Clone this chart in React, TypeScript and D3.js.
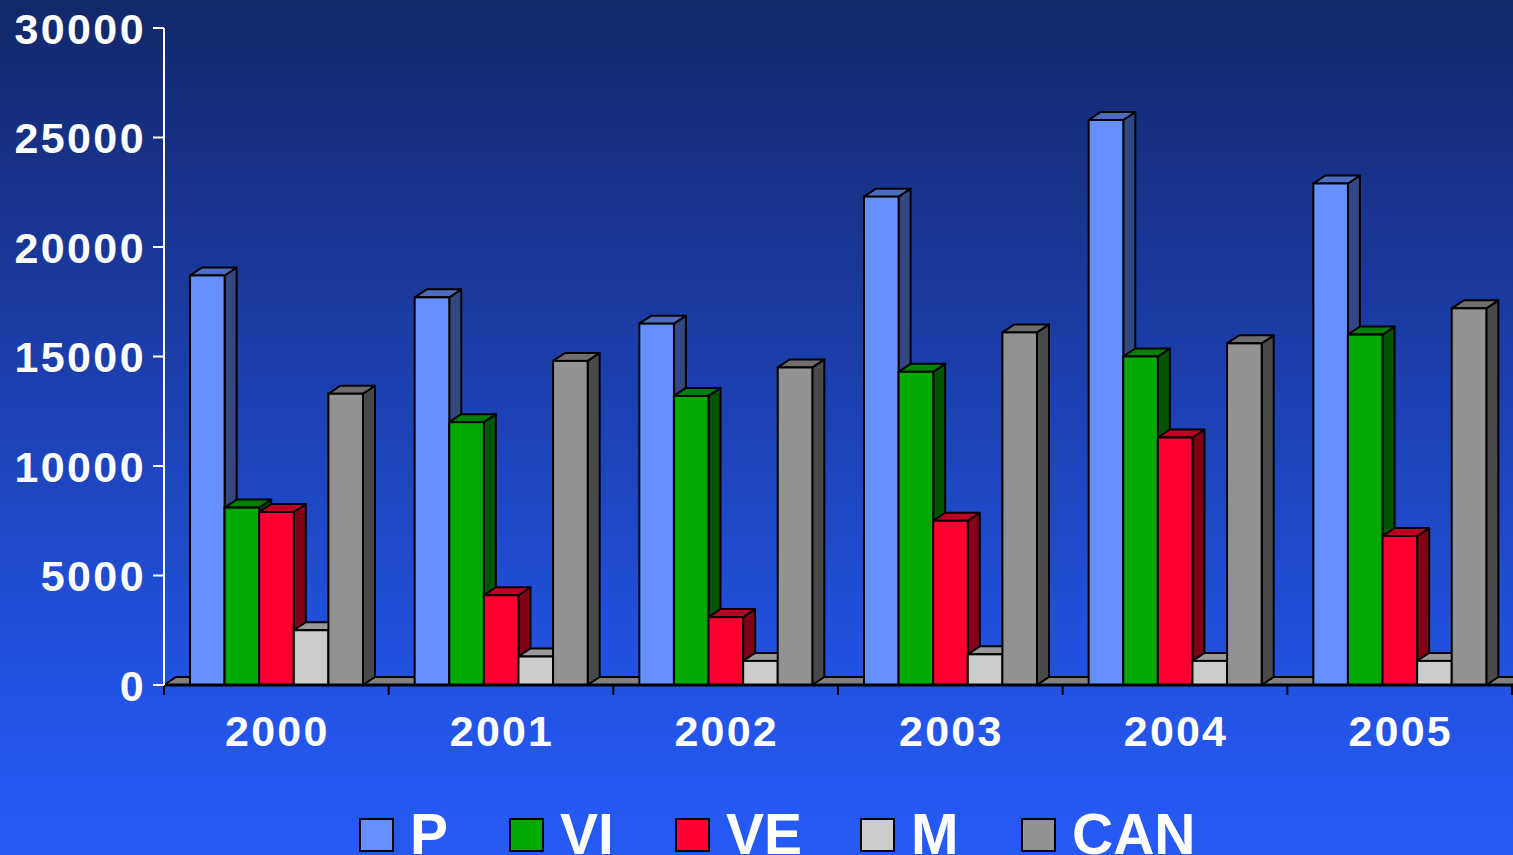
import React from "react";
import * as d3 from "d3";

const years = ["2000", "2001", "2002", "2003", "2004", "2005"];
const seriesNames = ["P", "VI", "VE", "M", "CAN"];
const P = [18700, 17700, 16500, 22300, 25800, 22900];
const VI = [8100, 12000, 13200, 14300, 15000, 16000];
const VE = [7900, 4100, 3100, 7500, 11300, 6800];
const M = [2500, 1300, 1100, 1400, 1100, 1100];
const CAN = [13300, 14800, 14500, 16100, 15600, 17200];
const yTicks = [0, 5000, 10000, 15000, 20000, 25000, 30000];

const seriesValues = [P, VI, VE, M, CAN];
const frontColors = ["#6690ff", "#00aa00", "#ff0030", "#cccccc", "#929292"];
const sideColors = ["#334880", "#005500", "#800018", "#666666", "#494949"];
const topColors = ["#4d6cbf", "#008000", "#bf0024", "#999999", "#6e6e6e"];

const W = 1513;
const H = 855;
const DX = 12;
const DY = 8;

export default function App() {
  const y = d3.scaleLinear().domain([0, 30000]).range([685, 28]);
  const x0 = d3.scaleBand<string>().domain(years).range([164, 1512]).padding(0);
  const x1 = d3
    .scaleBand<string>()
    .domain(seriesNames)
    .range([26, 199])
    .padding(0);
  const y0 = y(0);
  const fontFam = "'Liberation Sans', Arial, sans-serif";

  const bars: React.ReactNode[] = [];
  years.forEach((yr, gi) => {
    seriesNames.forEach((s, si) => {
      const v = seriesValues[si][gi];
      const xl = (x0(yr) as number) + (x1(s) as number);
      const w = x1.bandwidth();
      const yt = y(v);
      const side = [
        [xl + w, yt],
        [xl + w + DX, yt - DY],
        [xl + w + DX, y0 - DY],
        [xl + w, y0],
      ];
      const top = [
        [xl, yt],
        [xl + DX, yt - DY],
        [xl + w + DX, yt - DY],
        [xl + w, yt],
      ];
      bars.push(
        <g key={yr + s}>
          <polygon
            points={side.map((p) => p.join(",")).join(" ")}
            fill={sideColors[si]}
            stroke="#000"
            strokeWidth={2}
            strokeLinejoin="round"
          />
          <polygon
            points={top.map((p) => p.join(",")).join(" ")}
            fill={topColors[si]}
            stroke="#000"
            strokeWidth={2}
            strokeLinejoin="round"
          />
          <rect
            x={xl}
            y={yt}
            width={w}
            height={y0 - yt}
            fill={frontColors[si]}
            stroke="#000"
            strokeWidth={2}
          />
        </g>
      );
    });
  });

  const floor = [
    [164, y0],
    [164 + DX, y0 - DY],
    [W + DX + 10, y0 - DY],
    [W + 10, y0],
  ];

  const legendX = [360, 510, 676, 861, 1022];

  return (
    <div style={{ position: "fixed", left: 0, top: 0, width: W, height: H }}>
      <svg width={W} height={H} style={{ display: "block" }}>
        <defs>
          <linearGradient id="bg" x1="0" y1="0" x2="0" y2="1">
            <stop offset="0" stopColor="#13286a" />
            <stop offset="0.35" stopColor="#1a3a9f" />
            <stop offset="0.75" stopColor="#2150dc" />
            <stop offset="0.95" stopColor="#2559f2" />
            <stop offset="1" stopColor="#265af4" />
          </linearGradient>
        </defs>
        <rect x={0} y={0} width={W} height={H} fill="url(#bg)" />
        <polygon
          points={floor.map((p) => p.join(",")).join(" ")}
          fill="#808080"
          stroke="#000"
          strokeWidth={2}
        />
        {bars}
        {/* x axis */}
        <line x1={164} x2={W} y1={y0} y2={y0} stroke="#000" strokeWidth={3} />
        {years.map((yr) => (
          <line
            key={"t" + yr}
            x1={x0(yr) as number}
            x2={x0(yr) as number}
            y1={y0}
            y2={y0 + 10}
            stroke="#000"
            strokeWidth={2}
          />
        ))}
        <line x1={1512} x2={1512} y1={y0} y2={y0 + 10} stroke="#000" strokeWidth={2} />
        {years.map((yr) => (
          <text
            key={"l" + yr}
            x={(x0(yr) as number) + x0.bandwidth() / 2 + 1}
            y={746}
            textAnchor="middle"
            fill="#fff"
            fontFamily={fontFam}
            fontWeight="bold"
            fontSize={43}
            letterSpacing={2.2}
          >
            {yr}
          </text>
        ))}
        {/* y axis */}
        <line x1={164} x2={164} y1={y(30000)} y2={y0} stroke="#fff" strokeWidth={2} />
        {yTicks.map((t) => (
          <g key={"y" + t}>
            <line x1={153} x2={164} y1={y(t)} y2={y(t)} stroke="#fff" strokeWidth={2} />
            <text
              x={146}
              y={y(t) + 15.5}
              textAnchor="end"
              fill="#fff"
              fontFamily={fontFam}
              fontWeight="bold"
              fontSize={43}
              letterSpacing={2.4}
            >
              {t}
            </text>
          </g>
        ))}
        {/* legend */}
        {seriesNames.map((s, i) => (
          <g key={"lg" + s}>
            <rect
              x={legendX[i]}
              y={819}
              width={33}
              height={32}
              fill={frontColors[i]}
              stroke="#000"
              strokeWidth={2}
            />
            <text
              x={legendX[i] + 50}
              y={854}
              fill="#fff"
              fontFamily={fontFam}
              fontWeight="bold"
              fontSize={57}
            >
              {s}
            </text>
          </g>
        ))}
      </svg>
    </div>
  );
}
